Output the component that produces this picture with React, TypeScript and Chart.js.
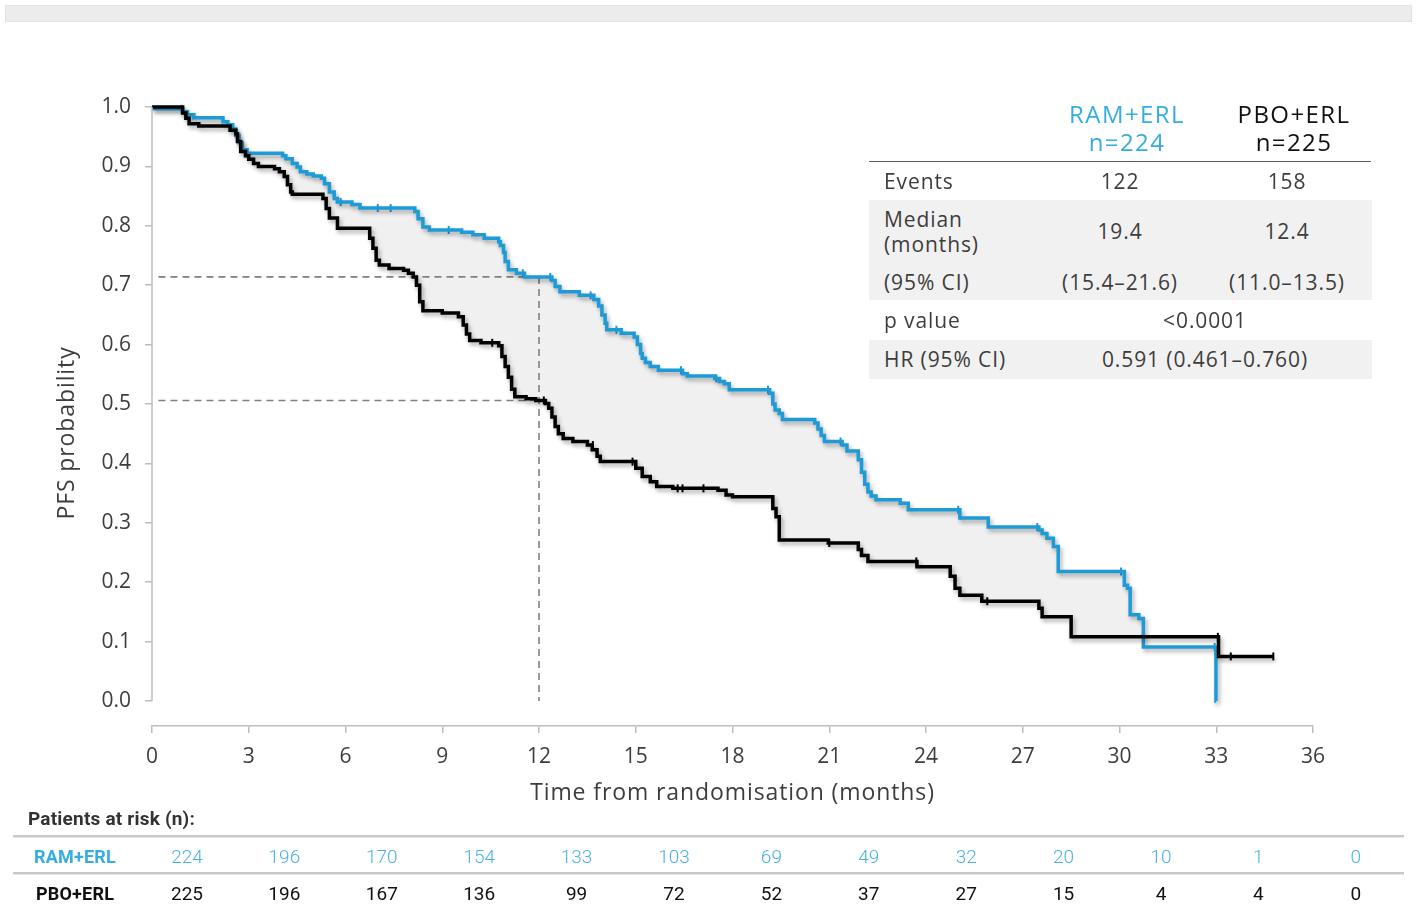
import React, { useEffect, useRef } from "react";
import { Chart, registerables } from "chart.js";

Chart.register(...registerables);

const FONT = "'Open Sans', Lato, sans-serif";
const BLUE = "#1d9bd7";
const BLUE_TEXT = "#35ace2";

const X_TICKS = [0, 3, 6, 9, 12, 15, 18, 21, 24, 27, 30, 33, 36];
const Y_TICKS = [0, 0.1, 0.2, 0.3, 0.4, 0.5, 0.6, 0.7, 0.8, 0.9, 1.0];

// RAM+ERL Kaplan–Meier steps (time in months, PFS probability)
const RAM_T = [0, 0.95, 1.1, 1.3, 2.2, 2.35, 2.5, 2.6, 2.7, 2.8, 2.95, 4.05, 4.15, 4.35, 4.5, 4.6, 4.8, 5.0, 5.25, 5.35, 5.5, 5.65, 5.75, 6.2, 6.45, 8.15, 8.25, 8.4, 8.6, 9.6, 9.95, 10.3, 10.75, 10.8, 10.9, 10.95, 11.05, 11.3, 11.55, 12.4, 12.5, 12.65, 13.25, 13.7, 13.85, 13.95, 14.05, 14.1, 14.55, 14.95, 15.05, 15.15, 15.2, 15.3, 15.45, 15.7, 16.45, 16.6, 17.45, 17.6, 17.75, 17.9, 19.15, 19.25, 19.32, 19.45, 19.55, 20.55, 20.65, 20.75, 20.85, 21.4, 21.55, 21.9, 22.0, 22.1, 22.2, 22.3, 22.45, 23.2, 23.45, 25.05, 25.93, 27.5, 27.6, 27.75, 27.95, 28.1, 30.15, 30.25, 30.33, 30.6, 30.74, 32.99, 33.0];
const RAM_S = [0.997, 0.992, 0.987, 0.982, 0.975, 0.970, 0.963, 0.952, 0.940, 0.928, 0.922, 0.918, 0.913, 0.905, 0.899, 0.891, 0.887, 0.884, 0.880, 0.871, 0.857, 0.846, 0.840, 0.836, 0.830, 0.824, 0.812, 0.798, 0.793, 0.789, 0.785, 0.779, 0.773, 0.767, 0.755, 0.740, 0.726, 0.720, 0.714, 0.708, 0.698, 0.689, 0.683, 0.676, 0.665, 0.650, 0.636, 0.625, 0.619, 0.613, 0.600, 0.585, 0.577, 0.570, 0.563, 0.557, 0.551, 0.547, 0.543, 0.538, 0.534, 0.524, 0.518, 0.500, 0.490, 0.484, 0.474, 0.468, 0.458, 0.447, 0.437, 0.431, 0.421, 0.406, 0.385, 0.365, 0.352, 0.345, 0.339, 0.333, 0.322, 0.308, 0.293, 0.288, 0.282, 0.274, 0.260, 0.218, 0.195, 0.190, 0.145, 0.139, 0.091, 0.0, 0.0];

// PBO+ERL Kaplan–Meier steps
const PBO_T = [0, 0.95, 1.05, 1.15, 1.45, 2.42, 2.6, 2.65, 2.75, 2.9, 3.0, 3.15, 3.3, 3.8, 3.95, 4.1, 4.2, 4.3, 4.35, 5.3, 5.4, 5.5, 5.75, 6.75, 6.85, 6.95, 7.05, 7.35, 7.8, 7.95, 8.1, 8.2, 8.3, 8.4, 9.0, 9.5, 9.65, 9.75, 9.85, 10.2, 10.75, 10.85, 10.95, 11.05, 11.15, 11.25, 11.6, 11.9, 12.2, 12.3, 12.4, 12.5, 12.6, 12.75, 13.05, 13.5, 13.65, 13.8, 13.9, 15.0, 15.2, 15.45, 15.65, 16.15, 17.55, 17.8, 18.0, 19.25, 19.35, 19.45, 20.97, 21.9, 22.0, 22.2, 23.72, 24.75, 24.9, 25.05, 25.73, 27.5, 27.6, 28.5, 33.07, 34.77];
const PBO_S = [1.0, 0.990, 0.981, 0.972, 0.968, 0.961, 0.955, 0.942, 0.925, 0.918, 0.912, 0.905, 0.900, 0.896, 0.891, 0.883, 0.869, 0.857, 0.853, 0.846, 0.829, 0.813, 0.796, 0.779, 0.762, 0.742, 0.734, 0.728, 0.725, 0.720, 0.714, 0.700, 0.672, 0.657, 0.653, 0.647, 0.633, 0.618, 0.607, 0.603, 0.598, 0.580, 0.563, 0.545, 0.525, 0.512, 0.509, 0.506, 0.501, 0.493, 0.478, 0.462, 0.450, 0.442, 0.437, 0.431, 0.423, 0.412, 0.403, 0.392, 0.378, 0.369, 0.361, 0.358, 0.355, 0.347, 0.344, 0.324, 0.310, 0.271, 0.266, 0.255, 0.245, 0.235, 0.226, 0.210, 0.190, 0.178, 0.168, 0.156, 0.142, 0.108, 0.075, 0.075];

// censoring marks
const RAM_CENS_T = [0.92, 5.85, 7.0, 7.4, 9.2, 11.5, 12.35, 13.6, 14.4, 16.4, 17.5, 19.1, 21.35, 25.0, 27.45, 30.05, 32.95];
const RAM_CENS_S = [0.997, 0.840, 0.830, 0.830, 0.793, 0.720, 0.714, 0.683, 0.625, 0.557, 0.543, 0.524, 0.437, 0.322, 0.293, 0.218, 0.091];
const PBO_CENS_T = [10.55, 12.15, 13.67, 14.9, 16.3, 16.45, 17.1, 21.0, 23.7, 25.9, 33.05, 33.45, 34.77];
const PBO_CENS_S = [0.603, 0.506, 0.431, 0.403, 0.358, 0.358, 0.358, 0.266, 0.235, 0.168, 0.108, 0.075, 0.075];

// 12-month landmark
const LANDMARK_MONTH = 12;
const LANDMARK_RAM = 0.714;
const LANDMARK_PBO = 0.506;
const DASH_FROM = 0.2;

const RISK_LABELS = ["RAM+ERL", "PBO+ERL"];
const AT_RISK_RAM = [224, 196, 170, 154, 133, 103, 69, 49, 32, 20, 10, 1, 0];
const AT_RISK_PBO = [225, 196, 167, 136, 99, 72, 52, 37, 27, 15, 4, 4, 0];

const toXY = (t: number[], s: number[]) => t.map((x, i) => ({ x, y: s[i] }));

function Txt(props: { x: number; y: number; children: any; align?: "left" | "center" | "right"; size?: number; color?: string; weight?: number; family?: string; ls?: number }) {
  const { x, y, children, align = "left", size = 21, color = "#3d3d3d", weight = 400, family = FONT, ls = 0.9 } = props;
  const tx = align === "left" ? "0" : align === "center" ? "-50%" : "-100%";
  return (
    <div
      style={{
        position: "absolute",
        left: x,
        top: y,
        transform: `translate(${tx}, -50%)`,
        fontFamily: family,
        fontSize: size,
        color,
        fontWeight: weight,
        whiteSpace: "nowrap",
        lineHeight: "normal",
        letterSpacing: `${ls}px`,
        textAlign: align,
      }}
    >
      {children}
    </div>
  );
}

const extras = {
  id: "kmExtras",
  beforeDatasetDraw(chart: any, args: any) {
    if (args.index <= 1) {
      const ctx = chart.ctx;
      ctx.save();
      ctx.shadowColor = "rgba(0,0,0,0.32)";
      ctx.shadowBlur = 4;
      ctx.shadowOffsetX = 2;
      ctx.shadowOffsetY = 3;
    }
  },
  afterDatasetDraw(chart: any, args: any) {
    if (args.index <= 1) chart.ctx.restore();
  },
  afterDraw(chart: any) {
    const ctx = chart.ctx;
    const y = chart.scales.y;
    const x = chart.scales.x;
    ctx.save();
    ctx.strokeStyle = "#bdbdbd";
    ctx.lineWidth = 1.5;
    ctx.beginPath();
    ctx.moveTo(x.left, y.getPixelForValue(0));
    ctx.lineTo(x.left, y.getPixelForValue(1));
    ctx.stroke();
    ctx.fillStyle = "#3d3d3d";
    ctx.font = `23px ${FONT}`;
    try {
      (ctx as any).letterSpacing = "0.9px";
    } catch (e) {}
    ctx.textAlign = "center";
    ctx.textBaseline = "middle";
    ctx.fillText("Time from randomisation (months)", (x.left + x.right) / 2, 793);
    ctx.translate(67, 433);
    ctx.rotate(-Math.PI / 2);
    ctx.fillText("PFS probability", 0, 0);
    ctx.restore();
  },
};

function KMChart() {
  const ref = useRef<HTMLCanvasElement | null>(null);
  useEffect(() => {
    if (!ref.current) return;
    const dashStyle = {
      borderColor: "#808080",
      borderWidth: 1.6,
      borderDash: [7, 5],
      pointRadius: 0,
      fill: false,
      tension: 0,
    };
    const chart = new Chart(ref.current, {
      type: "line",
      data: {
        datasets: [
          {
            label: "PBO+ERL",
            data: toXY(PBO_T, PBO_S),
            borderColor: "#000",
            borderWidth: 3.5,
            stepped: "before",
            pointRadius: 0,
            fill: false,
            clip: 8,
          } as any,
          {
            label: "RAM+ERL",
            data: toXY(RAM_T, RAM_S),
            borderColor: BLUE,
            borderWidth: 3.5,
            stepped: "before",
            pointRadius: 0,
            fill: { target: 0, above: "#f0f0f0", below: "rgba(0,0,0,0)" },
            clip: 8,
          },
          {
            label: "PBO censored",
            data: toXY(PBO_CENS_T, PBO_CENS_S),
            showLine: false,
            pointStyle: "line",
            rotation: 90,
            pointRadius: 4,
            pointBorderWidth: 2,
            pointBorderColor: "#000",
            fill: false,
            clip: 8,
          },
          {
            label: "RAM censored",
            data: toXY(RAM_CENS_T, RAM_CENS_S),
            showLine: false,
            pointStyle: "line",
            rotation: 90,
            pointRadius: 4,
            pointBorderWidth: 2,
            pointBorderColor: BLUE,
            fill: false,
            clip: 8,
          },
          { label: "RAM 12m", data: [{ x: DASH_FROM, y: LANDMARK_RAM }, { x: LANDMARK_MONTH, y: LANDMARK_RAM }], ...dashStyle },
          { label: "PBO 12m", data: [{ x: DASH_FROM, y: LANDMARK_PBO }, { x: LANDMARK_MONTH, y: LANDMARK_PBO }], ...dashStyle },
          { label: "12m", data: [{ x: LANDMARK_MONTH, y: LANDMARK_RAM }, { x: LANDMARK_MONTH, y: 0 }], ...dashStyle },
        ] as any,
      },
      options: {
        responsive: false,
        animation: false,
        layout: { padding: { top: 107, right: 103, left: 0, bottom: 0 } },
        plugins: {
          legend: { display: false },
          tooltip: { enabled: false },
          filler: { propagate: false, drawTime: "beforeDatasetsDraw" },
        } as any,
        scales: {
          x: {
            type: "linear",
            min: 0,
            max: 36,
            afterBuildTicks: (s: any) => {
              s.ticks = X_TICKS.map((v) => ({ value: v }));
            },
            afterFit: (s: any) => {
              s.height = 179;
            },
            border: { display: true, color: "#bdbdbd", width: 1.5 },
            grid: { drawOnChartArea: false, drawTicks: true, tickLength: 7, color: "#bdbdbd", lineWidth: 1.5 },
            ticks: { font: { family: FONT, size: 21 }, color: "#3d3d3d", padding: 11, autoSkip: false, maxRotation: 0 },
          },
          y: {
            type: "linear",
            min: -0.0421,
            max: 1.0,
            afterBuildTicks: (s: any) => {
              s.ticks = Y_TICKS.map((v) => ({ value: v }));
            },
            afterFit: (s: any) => {
              s.width = 152;
            },
            border: { display: false },
            grid: { drawOnChartArea: false, drawTicks: true, tickLength: 7, color: "#bdbdbd", lineWidth: 1.5 },
            ticks: {
              font: { family: FONT, size: 21 },
              color: "#3d3d3d",
              padding: 14,
              callback: (v: any) => Number(v).toFixed(1),
            },
          },
        } as any,
      },
      plugins: [extras],
    });
    return () => chart.destroy();
  }, []);
  return <canvas ref={ref} width={1416} height={905} style={{ position: "absolute", left: 0, top: 0 }} />;
}

function StatsTable() {
  const grey = "#f1f1f1";
  return (
    <>
      <div style={{ position: "absolute", left: 869, top: 200, width: 503, height: 100, background: grey }} />
      <div style={{ position: "absolute", left: 869, top: 340, width: 503, height: 39, background: grey }} />
      <div style={{ position: "absolute", left: 869, top: 161, width: 502, height: 1, background: "#5a5a5a" }} />
      <Txt x={1127} y={113} align="center" size={24} ls={1.4} color={BLUE_TEXT}>RAM+ERL</Txt>
      <Txt x={1127} y={141} align="center" size={24} ls={1.4} color={BLUE_TEXT}>n=224</Txt>
      <Txt x={1294} y={113} align="center" size={24} ls={1.4} color="#111">PBO+ERL</Txt>
      <Txt x={1294} y={141} align="center" size={24} ls={1.4} color="#111">n=225</Txt>
      <Txt x={884} y={181}>Events</Txt>
      <Txt x={1120} y={181} align="center">122</Txt>
      <Txt x={1287} y={181} align="center">158</Txt>
      <Txt x={884} y={219}>Median</Txt>
      <Txt x={884} y={244}>(months)</Txt>
      <Txt x={1120} y={231} align="center">19.4</Txt>
      <Txt x={1287} y={231} align="center">12.4</Txt>
      <Txt x={884} y={282}>(95% CI)</Txt>
      <Txt x={1120} y={282} align="center">(15.4–21.6)</Txt>
      <Txt x={1287} y={282} align="center">(11.0–13.5)</Txt>
      <Txt x={884} y={320}>p value</Txt>
      <Txt x={1205} y={320} align="center">&lt;0.0001</Txt>
      <Txt x={884} y={359}>HR (95% CI)</Txt>
      <Txt x={1205} y={359} align="center">0.591 (0.461–0.760)</Txt>
    </>
  );
}

function RiskTable() {
  const colX = (i: number) => 187 + i * 97.4;
  const rule = (top: number) => (
    <div style={{ position: "absolute", left: 13, top, width: 1391, height: 2, background: "#c8c8c8", borderBottom: "1px solid #e6e6e6" }} />
  );
  const numFont = "Roboto, Lato, sans-serif";
  return (
    <>
      <Txt x={28} y={818} size={19} weight={700} color="#333" family={numFont} ls={0.2}>Patients at risk (n):</Txt>
      {rule(835)}
      {rule(872)}
      <Txt x={34} y={856} size={18} weight={700} color={BLUE_TEXT} family={numFont} ls={0.2}>{RISK_LABELS[0]}</Txt>
      <Txt x={36} y={893} size={18} weight={700} color="#111" family={numFont} ls={0.2}>{RISK_LABELS[1]}</Txt>
      {AT_RISK_RAM.map((v, i) => (
        <Txt key={"r" + i} x={colX(i)} y={856} align="center" size={19} weight={300} color="#4ab2e6" family={numFont} ls={0}>{v}</Txt>
      ))}
      {AT_RISK_PBO.map((v, i) => (
        <Txt key={"p" + i} x={colX(i)} y={893} align="center" size={19} weight={400} color="#111" family={numFont} ls={0}>{v}</Txt>
      ))}
    </>
  );
}

export default function App() {
  return (
    <div style={{ position: "absolute", left: 0, top: 0, width: 1416, height: 905, background: "#fff", overflow: "hidden" }}>
      <div style={{ position: "absolute", left: 5, top: 5, width: 1405, height: 15, background: "#ececec", border: "1px solid #e2e2e2" }} />
      <KMChart />
      <StatsTable />
      <RiskTable />
    </div>
  );
}
